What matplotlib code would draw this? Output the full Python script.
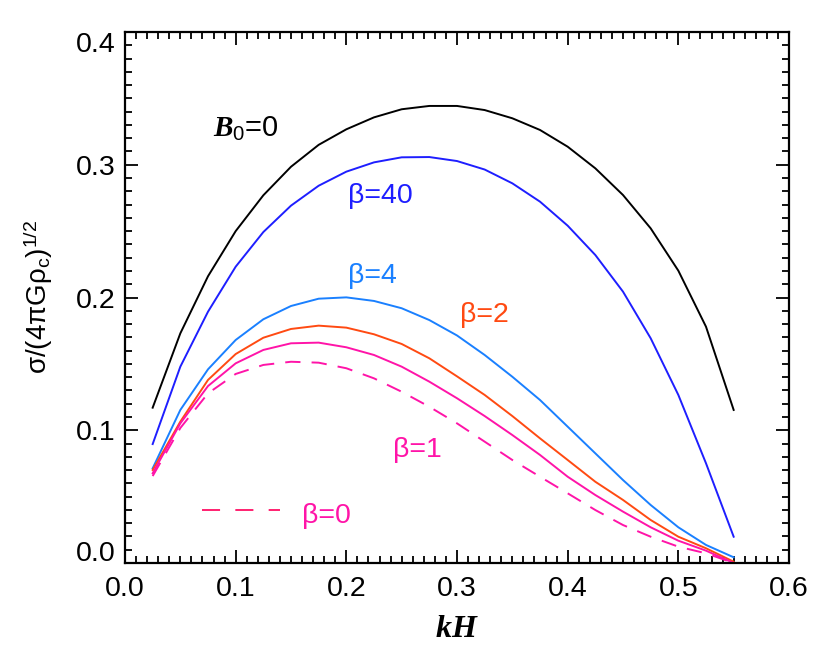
import matplotlib
matplotlib.use('Agg')
import matplotlib.pyplot as plt
from matplotlib.ticker import MultipleLocator

# ---- data ----
kH = [0.025, 0.05, 0.075, 0.1, 0.125, 0.15, 0.175, 0.2, 0.225, 0.25, 0.275,
      0.3, 0.325, 0.35, 0.375, 0.4, 0.425, 0.45, 0.475, 0.5, 0.525, 0.55]

sigma_B0 = [0.117, 0.173, 0.216, 0.250, 0.277, 0.2985, 0.315, 0.3267, 0.3357, 0.3418, 0.3443,
            0.3443, 0.3412, 0.335, 0.3262, 0.3136, 0.2973, 0.2772, 0.2521, 0.2202, 0.178, 0.1153]
sigma_b40 = [0.0896, 0.1479, 0.1893, 0.2232, 0.2493, 0.2692, 0.2842, 0.2948, 0.3018, 0.3056, 0.3058,
             0.3028, 0.2964, 0.286, 0.2722, 0.2541, 0.232, 0.2044, 0.1693, 0.1266, 0.0751, 0.0198]
sigma_b4 = [0.0713, 0.1153, 0.1459, 0.168, 0.1836, 0.1936, 0.1991, 0.2001, 0.1974, 0.1919, 0.183,
            0.1714, 0.1567, 0.1403, 0.1228, 0.1027, 0.0826, 0.0625, 0.0437, 0.0269, 0.0136, 0.0043]
sigma_b2 = [0.0701, 0.1065, 0.1379, 0.1574, 0.1697, 0.1763, 0.1788, 0.1773, 0.1723, 0.165, 0.1542,
            0.1406, 0.1266, 0.1107, 0.0939, 0.0776, 0.0612, 0.0475, 0.0324, 0.0198, 0.0111, 0.001]
sigma_b1 = [0.0676, 0.1052, 0.1333, 0.1504, 0.1605, 0.1655, 0.166, 0.1625, 0.1567, 0.1479, 0.1366,
            0.1241, 0.1107, 0.0964, 0.0814, 0.065, 0.0512, 0.0387, 0.0269, 0.0168, 0.0093, 0.0]
sigma_b0 = [0.0655, 0.1017, 0.1278, 0.1424, 0.1492, 0.1516, 0.1509, 0.1467, 0.1391, 0.129, 0.1177,
            0.1052, 0.0914, 0.0776, 0.065, 0.0525, 0.0399, 0.0286, 0.0198, 0.0123, 0.0073, 0.0]

x_ticks = [0.0, 0.1, 0.2, 0.3, 0.4, 0.5, 0.6]
x_ticklabels = ['0.0', '0.1', '0.2', '0.3', '0.4', '0.5', '0.6']
y_ticks = [0.0, 0.1, 0.2, 0.3, 0.4]
y_ticklabels = ['0.0', '0.1', '0.2', '0.3', '0.4']

# ---- style ----
plt.rcParams['font.family'] = ['Liberation Sans', 'DejaVu Sans']
plt.rcParams['mathtext.fontset'] = 'custom'
plt.rcParams['mathtext.rm'] = 'Liberation Sans'
plt.rcParams['mathtext.it'] = 'Liberation Serif:italic:bold'
plt.rcParams['lines.scale_dashes'] = False

c_black = '#000000'
c_b40 = '#1e1eff'
c_b4 = '#1a80ff'
c_b2 = '#ff4a12'
c_b1 = '#ff14a8'
c_b0leg = '#ff2070'

fig = plt.figure(figsize=(8.3, 6.63), dpi=100)
W, H = 830, 663
ax = fig.add_axes([125 / W, 1 - 563 / H, 664 / W, 531 / H])

lw = 1.4
ax.plot(kH, sigma_B0, color=c_black, lw=lw)
ax.plot(kH, sigma_b40, color=c_b40, lw=lw)
ax.plot(kH, sigma_b4, color=c_b4, lw=lw)
ax.plot(kH, sigma_b2, color=c_b2, lw=lw)
ax.plot(kH, sigma_b1, color=c_b1, lw=lw)
ax.plot(kH, sigma_b0, color=c_b1, lw=lw, dashes=(11, 8))

ax.set_xlim(0.0, 0.6)
ax.set_ylim(0.0, 0.4)

ax.set_xticks(x_ticks)
ax.set_xticklabels(x_ticklabels)
ax.set_yticks(y_ticks)
ax.set_yticklabels(['', y_ticklabels[1], y_ticklabels[2], y_ticklabels[3], ''])
ax.xaxis.set_minor_locator(MultipleLocator(0.01))
ax.yaxis.set_minor_locator(MultipleLocator(0.01))
ax.tick_params(which='both', direction='in', top=True, right=True, width=1.3, colors='black')
ax.tick_params(which='major', length=9.5, labelsize=20.5)
ax.tick_params(which='minor', length=5)
ax.tick_params(axis='x', which='major', pad=9)
ax.tick_params(axis='y', which='major', pad=7)
for s in ax.spines.values():
    s.set_linewidth(1.6)

# end labels on y, shifted inward like the reference
dx = -7 / 72 * 100 / 664 * 0.6
ax.text(dx, 12 / 531 * 0.4, y_ticklabels[0], ha='right', va='center_baseline', fontsize=20.5, clip_on=False)
ax.text(dx, 0.4 - 10 / 531 * 0.4, y_ticklabels[4], ha='right', va='center_baseline', fontsize=20.5, clip_on=False)

# curve labels
fs = 20.5
ax.text(0.0795, 0.3209, r'$\mathit{B}_{\mathregular{0}}$=0', color=c_black, fontsize=21, ha='left', va='baseline')
ax.text(0.2015, 0.2712, 'β=40', color=c_b40, fontsize=fs, ha='left', va='baseline')
ax.text(0.2015, 0.2109, 'β=4', color=c_b4, fontsize=fs, ha='left', va='baseline')
ax.text(0.3027, 0.1815, 'β=2', color=c_b2, fontsize=fs, ha='left', va='baseline')
ax.text(0.2422, 0.0798, 'β=1', color=c_b1, fontsize=fs, ha='left', va='baseline')
ax.text(0.160, 0.0301, 'β=0', color=c_b1, fontsize=fs, ha='left', va='baseline')
ax.plot([0.0696, 0.140], [0.0399, 0.0399], color=c_b0leg, lw=lw, dashes=(13, 11))

# axis labels
fig.text(457 / W, 1 - 637 / H, r'$\mathit{kH}$', fontsize=23, ha='center', va='baseline')
fig.text(47 / W, 1 - 297 / H, r'σ/(4πGρ$_{\mathregular{c}}$)$^{\mathregular{1/2}}$', fontsize=20,
         ha='center', va='baseline', rotation=90, rotation_mode='anchor')

fig.savefig('out.png', dpi=100)
